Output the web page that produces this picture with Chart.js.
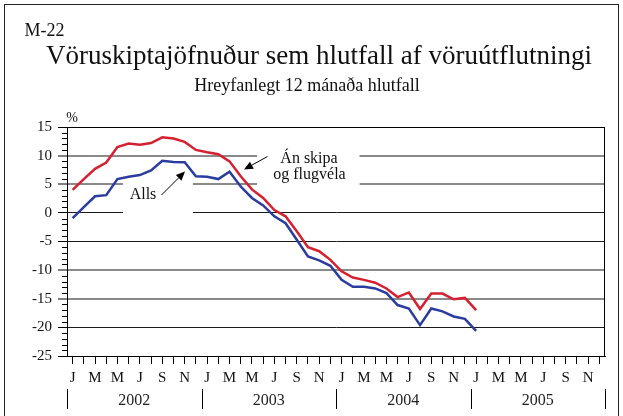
<!DOCTYPE html>
<html>
<head>
<meta charset="utf-8">
<style>
html,body{margin:0;padding:0;background:#fff;}
#wrap{position:relative;width:623px;height:416px;}
</style>
<script src="https://cdn.jsdelivr.net/npm/chart.js@4"></script>
</head>
<body>
<div id="wrap"><canvas id="c" width="623" height="416"></canvas></div>
<script>
// ---- Data ----
const monthLetters = ['J','F','M','A','M','J','J','A','S','O','N','D'];
const years = ['2002','2003','2004','2005'];
const categories = [];
years.forEach(y => monthLetters.forEach(m => categories.push(m)));
const yTickValues = [15,10,5,0,-5,-10,-15,-20,-25];

// Án skipa og flugvéla (red), Jan 2002 - Jan 2005
const anSkipa = [4.0, 5.9, 7.7, 8.8, 11.5, 12.1, 11.9, 12.2, 13.2, 13.0, 12.4, 11.0,
                 10.6, 10.25, 9.0, 6.4, 4.1, 2.6, 0.5, -0.6, -3.2, -6.0, -6.7, -8.2,
                 -10.2, -11.3, -11.7, -12.2, -13.2, -14.7, -13.9, -16.8, -14.1, -14.1, -15.1, -14.85,
                 -17.0];
// Alls (blue)
const alls = [-0.9, 1.0, 2.9, 3.1, 5.9, 6.3, 6.6, 7.4, 9.1, 8.9, 8.85, 6.4,
              6.3, 5.9, 7.2, 4.6, 2.6, 1.3, -0.6, -1.8, -4.7, -7.6, -8.3, -9.25,
              -11.7, -12.9, -12.9, -13.2, -14.0, -16.1, -16.7, -19.6, -16.7, -17.2, -18.1, -18.5,
              -20.6];

const grayLines = [10, 5, -10, -15];
const FONT = "'Liberation Serif', 'Times New Roman', serif";

const decor = {
  id: 'decor',
  beforeDatasetsDraw(chart) {
    const ctx = chart.ctx, a = chart.chartArea;
    const ys = chart.scales.y;
    const w = a.width / categories.length;
    const xm = m => a.left + (m + 0.5) * w;
    ctx.save();
    ctx.fillStyle = '#fff';
    // gap for "Alls"
    ctx.fillRect(xm(4.49), ys.getPixelForValue(5) - 2, xm(10.73) - xm(4.49), ys.getPixelForValue(0) - ys.getPixelForValue(5) + 4);
    // gap for "Án skipa og flugvéla"
    ctx.fillRect(xm(16.45), ys.getPixelForValue(10) - 2, xm(25.6) - xm(16.45), ys.getPixelForValue(5) - ys.getPixelForValue(10) + 4);
    ctx.restore();
  },
  afterDraw(chart) {
    const ctx = chart.ctx, a = chart.chartArea;
    const ys = chart.scales.y;
    const w = a.width / categories.length;
    ctx.save();
    // plot box
    ctx.strokeStyle = '#000';
    ctx.lineWidth = 1;
    ctx.strokeRect(Math.round(a.left) + 0.5, Math.round(a.top) + 0.5, Math.round(a.width) - 1, Math.round(a.height));
    // minor y ticks
    ctx.beginPath();
    for (let v = -25; v <= 15; v++) {
      if (v % 5 === 0) continue;
      const y = Math.round(ys.getPixelForValue(v)) + 0.5;
      ctx.moveTo(a.left - 5, y);
      ctx.lineTo(a.left, y);
    }
    ctx.stroke();
    // year row
    ctx.fillStyle = '#222';
    ctx.font = '16px ' + FONT;
    ctx.textAlign = 'center';
    ctx.textBaseline = 'alphabetic';
    ctx.beginPath();
    for (let i = 0; i <= years.length; i++) {
      const x = Math.round(a.left + i * 12 * w) + 0.5;
      ctx.moveTo(x, 389);
      ctx.lineTo(x, 409);
      if (i < years.length) ctx.fillText(years[i], a.left + (i * 12 + 6) * w, 404.5);
    }
    ctx.stroke();
    // outer frame
    ctx.strokeStyle = '#222';
    ctx.strokeRect(4.5, 4.5, 614, 430);
    // titles
    ctx.fillStyle = '#111';
    ctx.textAlign = 'left';
    ctx.font = '18px ' + FONT;
    ctx.fillText('M-22', 24.5, 36);
    ctx.textAlign = 'center';
    ctx.font = '27px ' + FONT;
    ctx.fillText('Vöruskiptajöfnuður sem hlutfall af vöruútflutningi', 319, 64);
    ctx.font = '18px ' + FONT;
    ctx.fillText('Hreyfanlegt 12 mánaða hlutfall', 307, 91);
    ctx.font = '14px ' + FONT;
    ctx.fillText('%', 72, 122);
    // annotations
    ctx.font = '16px ' + FONT;
    ctx.fillText('Alls', 143, 199);
    ctx.fillText('Án skipa', 309, 162.5);
    ctx.fillText('og flugvéla', 309.5, 178.5);
    // arrows
    const arrow = (x1, y1, x2, y2) => {
      const ang = Math.atan2(y2 - y1, x2 - x1);
      const L = 9, W = 4;
      const bx = x2 - L * Math.cos(ang), by = y2 - L * Math.sin(ang);
      ctx.strokeStyle = '#000';
      ctx.lineWidth = 1;
      ctx.beginPath();
      ctx.moveTo(x1, y1);
      ctx.lineTo(bx, by);
      ctx.stroke();
      ctx.fillStyle = '#000';
      ctx.beginPath();
      ctx.moveTo(x2, y2);
      ctx.lineTo(bx + W * Math.sin(ang), by - W * Math.cos(ang));
      ctx.lineTo(bx - W * Math.sin(ang), by + W * Math.cos(ang));
      ctx.closePath();
      ctx.fill();
    };
    arrow(161.5, 195, 185, 171.5);
    arrow(267.5, 156.5, 244, 169.5);
    ctx.restore();
  }
};

new Chart(document.getElementById('c'), {
  type: 'line',
  data: {
    labels: categories,
    datasets: [
      { label: 'Án skipa og flugvéla', data: anSkipa, borderColor: '#d42030', borderWidth: 2.5, pointRadius: 0, tension: 0, fill: false },
      { label: 'Alls', data: alls, borderColor: '#2a3c9e', borderWidth: 2.5, pointRadius: 0, tension: 0, fill: false }
    ]
  },
  options: {
    responsive: false,
    animation: false,
    devicePixelRatio: 1,
    layout: { padding: { left: 0, right: 18, top: 127, bottom: 0 } },
    plugins: { legend: { display: false }, tooltip: { enabled: false }, title: { display: false } },
    scales: {
      x: {
        type: 'category',
        offset: true,
        grid: { display: true, drawOnChartArea: false, offset: false, tickLength: 8, color: '#000', tickWidth: 1 },
        border: { color: '#000', width: 1 },
        ticks: {
          autoSkip: false, maxRotation: 0, minRotation: 0, padding: 5, color: '#111',
          font: { family: FONT, size: 15 },
          callback: (v, i) => (i % 2 === 0 ? categories[i] : '')
        },
        afterFit: s => { s.height = 60; }
      },
      y: {
        min: -25, max: 15,
        afterBuildTicks: s => { s.ticks = yTickValues.slice().reverse().map(v => ({ value: v })); },
        ticks: { autoSkip: false, padding: 6, color: '#111', font: { family: FONT, size: 15 } },
        grid: {
          color: c => (grayLines.includes(c.tick.value) ? '#8a8a8a' : '#1a1a1a'),
          lineWidth: c => (grayLines.includes(c.tick.value) ? 2 : 1),
          tickLength: 9, tickColor: '#000', tickWidth: 1
        },
        border: { color: '#000', width: 1 },
        afterFit: s => { s.width = 67; }
      }
    }
  },
  plugins: [decor]
});
</script>
</body>
</html>
